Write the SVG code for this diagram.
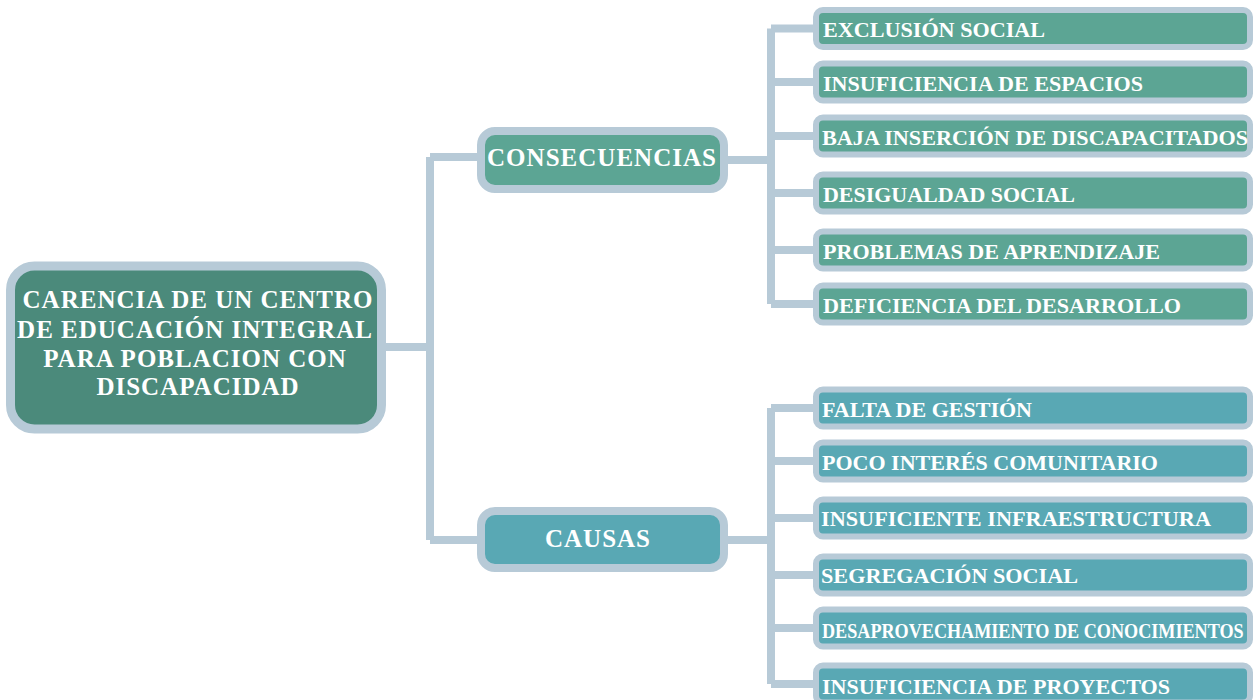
<svg xmlns="http://www.w3.org/2000/svg" width="1254" height="700" viewBox="0 0 1254 700">
<style>
.conn{fill:none;stroke:#b7cad7;stroke-width:8;stroke-linejoin:miter}
.root{fill:#4b8a7b;stroke:#b7cad7;stroke-width:9}
.mid1{fill:#5ca594;stroke:#b7cad7;stroke-width:8}
.mid2{fill:#59a8b4;stroke:#b7cad7;stroke-width:8}
.leafc{fill:#5ca594;stroke:#b7cad7;stroke-width:6}
.leafk{fill:#59a8b4;stroke:#b7cad7;stroke-width:6}
text{font-family:"Liberation Serif","Times New Roman",serif;font-weight:bold;fill:#ffffff}
.rt{font-size:25px;text-anchor:middle;letter-spacing:1px}
.mt{font-size:25px}
.lt{font-size:22px}
</style>
<rect width="1254" height="700" fill="#ffffff"/>
<g id="connectors">
<path class="conn" d="M386 347 H430 M430 157 V540 M430 157 H481 M430 540 H481"/>
<path class="conn" d="M724 160 H771 M771 28.5 V304 M771 28.5 H816 M771 82 H816 M771 136 H816 M771 193 H816 M771 250 H816 M771 304 H816"/>
<path class="conn" d="M724 540 H771 M771 408 V684 M771 408 H816 M771 461 H816 M771 518 H816 M771 575 H816 M771 628 H816 M771 684 H816"/>
</g>
<g id="root">
<rect class="root" x="10.5" y="266" width="371" height="163" rx="24"/>
<text class="rt" x="198" y="308">CARENCIA DE UN CENTRO</text>
<text class="rt" x="195" y="338">DE EDUCACIÓN INTEGRAL</text>
<text class="rt" x="195" y="367">PARA POBLACION CON</text>
<text class="rt" x="198" y="395">DISCAPACIDAD</text>
</g>
<g id="consecuencias">
<rect class="mid1" x="481" y="131" width="243" height="58" rx="14"/>
<text class="mt" x="487" y="166" textLength="229" lengthAdjust="spacing">CONSECUENCIAS</text>
</g>
<g id="causas">
<rect class="mid2" x="481" y="511" width="243" height="57" rx="14"/>
<text class="mt" x="545" y="547" textLength="105" lengthAdjust="spacing">CAUSAS</text>
</g>
<g id="c1"><rect class="leafc" x="816" y="10" width="434" height="37" rx="7"/><text class="lt" x="823" y="37" textLength="222" lengthAdjust="spacingAndGlyphs">EXCLUSIÓN SOCIAL</text></g>
<g id="c2"><rect class="leafc" x="816" y="63.5" width="434" height="37" rx="7"/><text class="lt" x="823" y="91" textLength="320" lengthAdjust="spacingAndGlyphs">INSUFICIENCIA DE ESPACIOS</text></g>
<g id="c3"><rect class="leafc" x="816" y="117.5" width="434" height="37" rx="7"/><text class="lt" x="822" y="145" textLength="426" lengthAdjust="spacingAndGlyphs">BAJA INSERCIÓN DE DISCAPACITADOS</text></g>
<g id="c4"><rect class="leafc" x="816" y="174.5" width="434" height="37" rx="7"/><text class="lt" x="823" y="202" textLength="252" lengthAdjust="spacingAndGlyphs">DESIGUALDAD SOCIAL</text></g>
<g id="c5"><rect class="leafc" x="816" y="231.5" width="434" height="37" rx="7"/><text class="lt" x="823" y="259" textLength="337" lengthAdjust="spacingAndGlyphs">PROBLEMAS DE APRENDIZAJE</text></g>
<g id="c6"><rect class="leafc" x="816" y="285.5" width="434" height="37" rx="7"/><text class="lt" x="823" y="313" textLength="358" lengthAdjust="spacingAndGlyphs">DEFICIENCIA DEL DESARROLLO</text></g>
<g id="k1"><rect class="leafk" x="816" y="389.5" width="434" height="37" rx="7"/><text class="lt" x="822" y="417" textLength="210" lengthAdjust="spacingAndGlyphs">FALTA DE GESTIÓN</text></g>
<g id="k2"><rect class="leafk" x="816" y="442.5" width="434" height="37" rx="7"/><text class="lt" x="822" y="470" textLength="336" lengthAdjust="spacingAndGlyphs">POCO INTERÉS COMUNITARIO</text></g>
<g id="k3"><rect class="leafk" x="816" y="499.5" width="434" height="37" rx="7"/><text class="lt" x="821" y="526" textLength="390" lengthAdjust="spacingAndGlyphs">INSUFICIENTE INFRAESTRUCTURA</text></g>
<g id="k4"><rect class="leafk" x="816" y="556.5" width="434" height="37" rx="7"/><text class="lt" x="821" y="583" textLength="257" lengthAdjust="spacingAndGlyphs">SEGREGACIÓN SOCIAL</text></g>
<g id="k5"><rect class="leafk" x="816" y="609.5" width="434" height="37" rx="7"/><text class="lt" transform="translate(822 638) scale(0.825 1)" x="0" y="0">DESAPROVECHAMIENTO DE CONOCIMIENTOS</text></g>
<g id="k6"><rect class="leafk" x="816" y="665.5" width="434" height="37" rx="7"/><text class="lt" x="822" y="694" textLength="348" lengthAdjust="spacingAndGlyphs">INSUFICIENCIA DE PROYECTOS</text></g>
</svg>
